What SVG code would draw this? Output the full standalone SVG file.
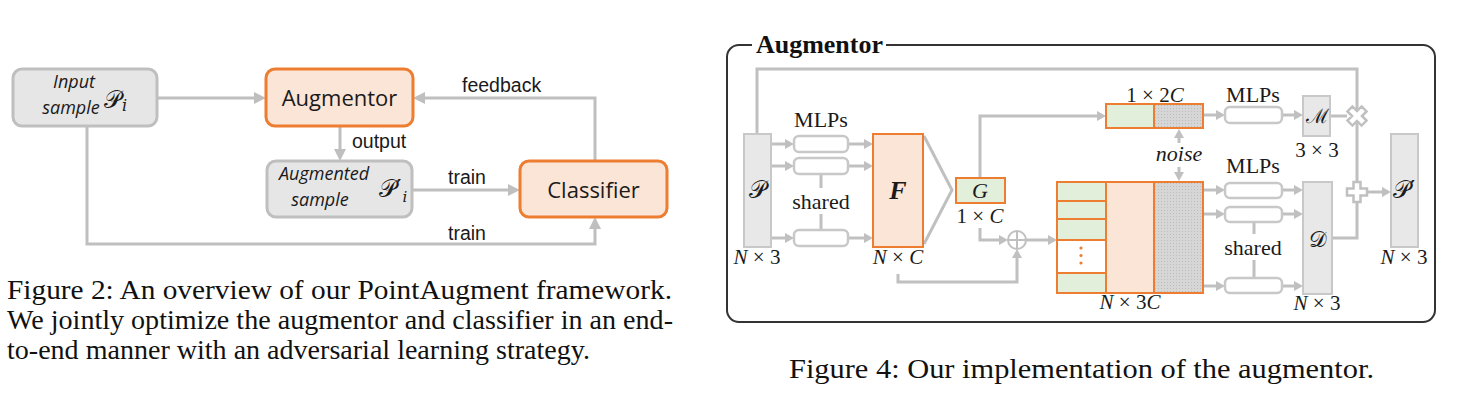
<svg xmlns="http://www.w3.org/2000/svg" width="1465" height="411" viewBox="0 0 1465 411">
<style>
.bg{fill:#ffffff}
.conn{fill:none;stroke:#bfbfbf;stroke-width:3}
.gbox{fill:#e7e6e6;stroke:#bfbfbf;stroke-width:3}
.obox{fill:#fbe5d6;stroke:#ed7d31;stroke-width:3}
.lbl{font-family:"Liberation Sans",Arial,sans-serif;font-size:19.5px;fill:#1a1a1a}
.big{font-family:"Open Sans","Liberation Sans",sans-serif;font-size:22px;fill:#1a1a1a}
.ital{font-family:"Open Sans","Liberation Sans",sans-serif;font-size:18px;font-style:italic;fill:#1a1a1a}
.math{font-family:"DejaVu Serif","Liberation Serif",serif;fill:#1a1a1a}
.cap{font-family:"Liberation Serif","Times New Roman",serif;font-size:27px;fill:#111}
.ser{font-family:"Liberation Serif","Times New Roman",serif;font-size:22px;fill:#1a1a1a}
.dim{font-family:"Liberation Serif","Times New Roman",serif;font-size:21px;fill:#1a1a1a}
.it{font-style:italic}
.rc{fill:none;stroke:#c0c0c0;stroke-width:3}
.gcol{fill:#e8e8e8;stroke:#c8c8c8;stroke-width:2}
.mlp{fill:#ffffff;stroke:#c8c8c8;stroke-width:2.5}
.ob{stroke:#ed7d31;stroke-width:2}
.green{fill:#e2efda}
.peach{fill:#fbe5d6}
.grey{fill:url(#dots)}
.op{fill:#ffffff;stroke:#c0c0c0;stroke-width:2.5}
</style>
<defs>
<marker id="ahL" markerUnits="userSpaceOnUse" markerWidth="12" markerHeight="12" viewBox="0 0 12 12" refX="4" refY="6" orient="auto">
<path d="M0,0 L12,6 L0,12 z" fill="#bfbfbf"/>
</marker>
<marker id="ahR" markerUnits="userSpaceOnUse" markerWidth="9" markerHeight="10" viewBox="0 0 9 10" refX="3" refY="5" orient="auto">
<path d="M0,0 L9,5 L0,10 z" fill="#c0c0c0"/>
</marker>
<pattern id="dots" patternUnits="userSpaceOnUse" width="3" height="3">
<rect width="3" height="3" fill="#d6d6d6"/>
<rect width="1" height="1" fill="#bdbdbd"/>
</pattern>
</defs>
<rect class="bg" width="1465" height="411"/>

<!-- ===== Figure 2 ===== -->
<g id="fig2-connectors">
<path class="conn" d="M157,98 H258" marker-end="url(#ahL)"/>
<path class="conn" d="M340,126 V153" marker-end="url(#ahL)"/>
<path class="conn" d="M412,190 H512" marker-end="url(#ahL)"/>
<path class="conn" d="M595,161 V98 H421" marker-end="url(#ahL)"/>
<path class="conn" d="M87,126 V244 H595 V225" marker-end="url(#ahL)"/>
<text class="lbl" x="352" y="148">output</text>
<text class="lbl" x="448" y="184">train</text>
<text class="lbl" x="448" y="240">train</text>
<text class="lbl" x="462" y="92">feedback</text>
</g>
<g id="input-sample">
<rect class="gbox" x="13" y="69" width="144" height="57" rx="9"/>
<text class="ital" x="74" y="88" text-anchor="middle">Input</text>
<text class="ital" x="71" y="114" text-anchor="middle">sample</text>
<text class="math" x="104" y="108" font-size="24">𝒫<tspan font-size="16" font-style="italic" dx="1" dy="3">i</tspan></text>
</g>
<g id="augmentor">
<rect class="obox" x="266" y="69" width="147" height="57" rx="9"/>
<text class="big" x="339.5" y="106" text-anchor="middle">Augmentor</text>
</g>
<g id="augmented-sample">
<rect class="gbox" x="267" y="161" width="145" height="56" rx="9"/>
<text class="ital" x="324" y="180" text-anchor="middle">Augmented</text>
<text class="ital" x="320" y="206" text-anchor="middle">sample</text>
<text class="math" x="379" y="197" font-size="24">𝒫′<tspan font-size="15" font-style="italic" dx="1" dy="5">i</tspan></text>
</g>
<g id="classifier">
<rect class="obox" x="520" y="161" width="147" height="56" rx="9"/>
<text class="big" x="593.5" y="198" text-anchor="middle">Classifier</text>
</g>
<g id="caption2">
<text class="cap" x="7" y="299" textLength="665" lengthAdjust="spacingAndGlyphs">Figure 2:  An overview of our PointAugment framework.</text>
<text class="cap" x="7" y="329" textLength="666" lengthAdjust="spacingAndGlyphs">We jointly optimize the augmentor and classifier in an end-</text>
<text class="cap" x="7" y="359" textLength="583" lengthAdjust="spacingAndGlyphs">to-end manner with an adversarial learning strategy.</text>
</g>

<!-- ===== Figure 4 ===== -->
<g id="augmentor-frame">
<path d="M752,45 H739 A12,12 0 0 0 727,57 V310 A12,12 0 0 0 739,322 H1423 A12,12 0 0 0 1435,310 V57 A12,12 0 0 0 1423,45 H886" fill="none" stroke="#333333" stroke-width="2"/>
<text x="756" y="53" font-family="'Liberation Serif','Times New Roman',serif" font-size="25" font-weight="bold" fill="#111" textLength="127" lengthAdjust="spacingAndGlyphs">Augmentor</text>
</g>

<g id="fig4-connectors">
<path class="rc" d="M757,134 V69 H1357 V238 H1332"/>
<path class="rc" d="M771,144 H788" marker-end="url(#ahR)"/>
<path class="rc" d="M771,166 H788" marker-end="url(#ahR)"/>
<path class="rc" d="M771,238 H788" marker-end="url(#ahR)"/>
<path class="rc" d="M848,144 H867" marker-end="url(#ahR)"/>
<path class="rc" d="M848,166 H867" marker-end="url(#ahR)"/>
<path class="rc" d="M848,238 H867" marker-end="url(#ahR)"/>
<path class="rc" d="M821,174 V188 M821,214 V230"/>
<path class="rc" d="M924,136 L952,190 L924,244"/>
<path class="rc" d="M980,178 V116 H1100" marker-end="url(#ahR)"/>
<path class="rc" d="M980,228 V240 H1002" marker-end="url(#ahR)"/>
<path class="rc" d="M898,274 V282 H1017 V255" marker-end="url(#ahR)"/>
<path class="rc" d="M1026,240 H1051" marker-end="url(#ahR)"/>
<path class="rc" d="M1179,143 V135" marker-end="url(#ahR)"/>
<path class="rc" d="M1179,167 V175" marker-end="url(#ahR)"/>
<path class="rc" d="M1203,115 H1219" marker-end="url(#ahR)"/>
<path class="rc" d="M1282,115 H1297" marker-end="url(#ahR)"/>
<path class="rc" d="M1203,190 H1219" marker-end="url(#ahR)"/>
<path class="rc" d="M1203,214 H1219" marker-end="url(#ahR)"/>
<path class="rc" d="M1203,286 H1219" marker-end="url(#ahR)"/>
<path class="rc" d="M1282,190 H1297" marker-end="url(#ahR)"/>
<path class="rc" d="M1282,214 H1297" marker-end="url(#ahR)"/>
<path class="rc" d="M1282,286 H1297" marker-end="url(#ahR)"/>
<path class="rc" d="M1254,221 V234 M1254,260 V278"/>
<path class="rc" d="M1330,116 H1347"/>
<path class="rc" d="M1367,192 H1385" marker-end="url(#ahR)"/>
<text class="ser" x="821" y="127" text-anchor="middle">MLPs</text>
<text class="ser" x="821" y="209" text-anchor="middle">shared</text>
<text class="ser" x="1253" y="102" text-anchor="middle">MLPs</text>
<text class="ser" x="1253" y="173" text-anchor="middle">MLPs</text>
<text class="ser" x="1253" y="255" text-anchor="middle">shared</text>
<text class="ser it" x="1179" y="161" text-anchor="middle">noise</text>
</g>

<g id="P">
<rect class="gcol" x="744" y="134" width="27" height="113"/>
<text class="math" x="757.5" y="198" font-size="24" text-anchor="middle">𝒫</text>
<text class="dim" x="757" y="264" text-anchor="middle"><tspan class="it">N</tspan> × 3</text>
</g>
<g id="mlp-left">
<rect class="mlp" x="794" y="136" width="54" height="16" rx="5"/>
<rect class="mlp" x="794" y="158" width="54" height="16" rx="5"/>
<rect class="mlp" x="794" y="230" width="54" height="16" rx="5"/>
</g>
<g id="F">
<rect class="peach ob" x="873" y="134" width="50" height="113"/>
<text x="898" y="199" font-family="'Liberation Serif','Times New Roman',serif" font-size="26" font-weight="bold" font-style="italic" text-anchor="middle" fill="#1a1a1a">F</text>
<text class="dim" x="898" y="264" text-anchor="middle"><tspan class="it">N</tspan> × <tspan class="it">C</tspan></text>
</g>
<g id="G">
<rect class="green ob" x="956" y="178" width="49" height="25"/>
<text class="ser it" x="980" y="198" font-size="24" text-anchor="middle">G</text>
<text class="dim" x="980" y="223" text-anchor="middle">1 × <tspan class="it">C</tspan></text>
</g>
<g id="concat-op">
<circle cx="1017" cy="240" r="9" fill="none" stroke="#c0c0c0" stroke-width="2"/>
<path d="M1008,240 H1026 M1017,231 V249" stroke="#c0c0c0" stroke-width="2"/>
</g>
<g id="vec-1x2C">
<rect class="green" x="1106" y="104" width="48" height="24"/>
<rect class="grey" x="1154" y="104" width="49" height="24"/>
<rect x="1106" y="104" width="97" height="24" fill="none" class="ob"/>
<line x1="1154" y1="104" x2="1154" y2="128" class="ob"/>
<text class="dim" x="1155" y="102" text-anchor="middle">1 × 2<tspan class="it">C</tspan></text>
</g>
<g id="mat-Nx3C">
<rect class="green" x="1057" y="182" width="49" height="111"/>
<rect fill="#ffffff" x="1057" y="240" width="49" height="33"/>
<rect class="peach" x="1106" y="182" width="48" height="111"/>
<rect class="grey" x="1154" y="182" width="49" height="111"/>
<rect x="1057" y="182" width="146" height="111" fill="none" class="ob"/>
<path d="M1106,182 V293 M1154,182 V293 M1057,201 H1106 M1057,219 H1106 M1057,240 H1106 M1057,273 H1106" class="ob" fill="none"/>
<circle cx="1081" cy="248" r="1.6" fill="#ed7d31"/>
<circle cx="1081" cy="255.5" r="1.6" fill="#ed7d31"/>
<circle cx="1081" cy="263" r="1.6" fill="#ed7d31"/>
<text class="dim" x="1130" y="309" text-anchor="middle"><tspan class="it">N</tspan> × 3<tspan class="it">C</tspan></text>
</g>
<g id="mlp-right">
<rect class="mlp" x="1225" y="107" width="57" height="16" rx="5"/>
<rect class="mlp" x="1225" y="183" width="57" height="15" rx="5"/>
<rect class="mlp" x="1225" y="207" width="57" height="15" rx="5"/>
<rect class="mlp" x="1225" y="278" width="57" height="15" rx="5"/>
</g>
<g id="M">
<rect class="gcol" x="1303" y="96" width="27" height="40"/>
<text class="math" x="1317" y="123" font-size="20" text-anchor="middle">ℳ</text>
<text class="dim" x="1317" y="157" text-anchor="middle">3 × 3</text>
</g>
<g id="D">
<rect class="gcol" x="1303" y="182" width="29" height="112"/>
<text class="math" x="1317.5" y="247" font-size="22" text-anchor="middle">𝒟</text>
<text class="dim" x="1317" y="310" text-anchor="middle"><tspan class="it">N</tspan> × 3</text>
</g>
<g id="mult-op">
<polygon class="op" transform="translate(1357,116) rotate(45)" points="-3.5,-10 3.5,-10 3.5,-3.5 10,-3.5 10,3.5 3.5,3.5 3.5,10 -3.5,10 -3.5,3.5 -10,3.5 -10,-3.5 -3.5,-3.5"/>
</g>
<g id="add-op">
<polygon class="op" transform="translate(1357,192)" points="-3.5,-10 3.5,-10 3.5,-3.5 10,-3.5 10,3.5 3.5,3.5 3.5,10 -3.5,10 -3.5,3.5 -10,3.5 -10,-3.5 -3.5,-3.5"/>
</g>
<g id="P-prime">
<rect class="gcol" x="1391" y="134" width="27" height="113"/>
<text class="math" x="1404" y="198" font-size="24" text-anchor="middle">𝒫′</text>
<text class="dim" x="1404" y="264" text-anchor="middle"><tspan class="it">N</tspan> × 3</text>
</g>
<g id="caption4">
<text class="cap" x="789" y="378" textLength="585" lengthAdjust="spacingAndGlyphs">Figure 4: Our implementation of the augmentor.</text>
</g>
</svg>
